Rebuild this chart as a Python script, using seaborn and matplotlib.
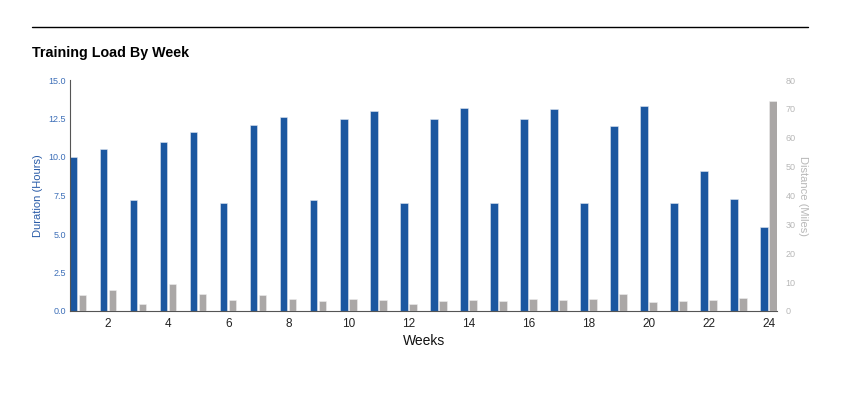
import pandas as pd
import matplotlib
matplotlib.use('Agg')
import matplotlib.pyplot as plt
import seaborn as sns
from matplotlib.lines import Line2D

weeks = list(range(1, 25))
hours = [10.0, 10.5, 7.2, 11.0, 11.6, 7.0, 12.1, 12.6, 7.2, 12.5, 13.0, 7.0,
         12.5, 13.2, 7.0, 12.5, 13.1, 7.0, 12.0, 13.3, 7.0, 9.1, 7.3, 5.45]
miles = [5.7, 7.2, 2.3, 9.4, 5.9, 3.8, 5.7, 4.0, 3.6, 4.0, 3.8, 2.4,
         3.5, 3.8, 3.5, 4.0, 3.9, 4.3, 5.8, 3.1, 3.5, 3.7, 4.6, 72.8]

blue = '#1b57a0'
grey = '#aaa7a6'
off = 0.15

df = pd.DataFrame({'week': weeks, 'hours': hours, 'miles': miles})
df['xh'] = df['week'] - off
df['xm'] = df['week'] + off

sns.set_style('white')
plt.rcParams['font.family'] = ['Liberation Sans', 'DejaVu Sans']

fig = plt.figure(figsize=(8.46, 3.93), dpi=100)
ax = fig.add_axes([70/846, 82/393, 707.3/846, 231/393])
ax2 = ax.twinx()

sns.barplot(data=df, x='xh', y='hours', native_scale=True, width=0.245,
            color=blue, saturation=1, edgecolor='#dfe6f0', linewidth=0.4, ax=ax)
sns.barplot(data=df, x='xm', y='miles', native_scale=True, width=0.245,
            color=grey, saturation=1, edgecolor='#eeeeee', linewidth=0.4, ax=ax2)

ax.set_xlim(0.728, 24.29)
ax.set_ylim(0, 15)
ax2.set_ylim(0, 80)
ax.set_xticks(range(2, 25, 2))
ax.set_xticklabels([str(w) for w in range(2, 25, 2)], fontsize=8.5, color='#222222')
ax.set_yticks([0, 2.5, 5, 7.5, 10, 12.5, 15])
ax.set_yticklabels(['0.0', '2.5', '5.0', '7.5', '10.0', '12.5', '15.0'],
                   fontsize=6.5, color='#3d6fb8')
ax2.set_yticks(range(0, 81, 10))
ax2.set_yticklabels([str(v) for v in range(0, 81, 10)], fontsize=6.5, color='#b8b8b8')
ax.tick_params(axis='y', length=0, pad=3)
ax.tick_params(axis='x', length=0, pad=5)
ax2.tick_params(axis='y', length=0, pad=6)

ax.set_xlabel('Weeks', fontsize=10, color='#111111', labelpad=3)
ax.set_ylabel('Duration (Hours)', fontsize=8, color='#2a5ca8', labelpad=4)
ax2.set_ylabel('Distance (Miles)', fontsize=8, color='#b8b8b8', rotation=270, labelpad=9)

for a in (ax, ax2):
    for s in ('top', 'right', 'left', 'bottom'):
        a.spines[s].set_visible(False)
for s in ('left', 'bottom'):
    ax.spines[s].set_visible(True)
    ax.spines[s].set_color('#555555')
    ax.spines[s].set_linewidth(0.8)

fig.add_artist(Line2D([32/846, 808/846], [1 - 27/393, 1 - 27/393],
                      color='black', linewidth=1))
fig.text(32/846, 1 - 57/393, 'Training Load By Week', fontsize=10.3,
         fontweight='bold', color='black', va='baseline')

fig.savefig('out.png', dpi=100)
